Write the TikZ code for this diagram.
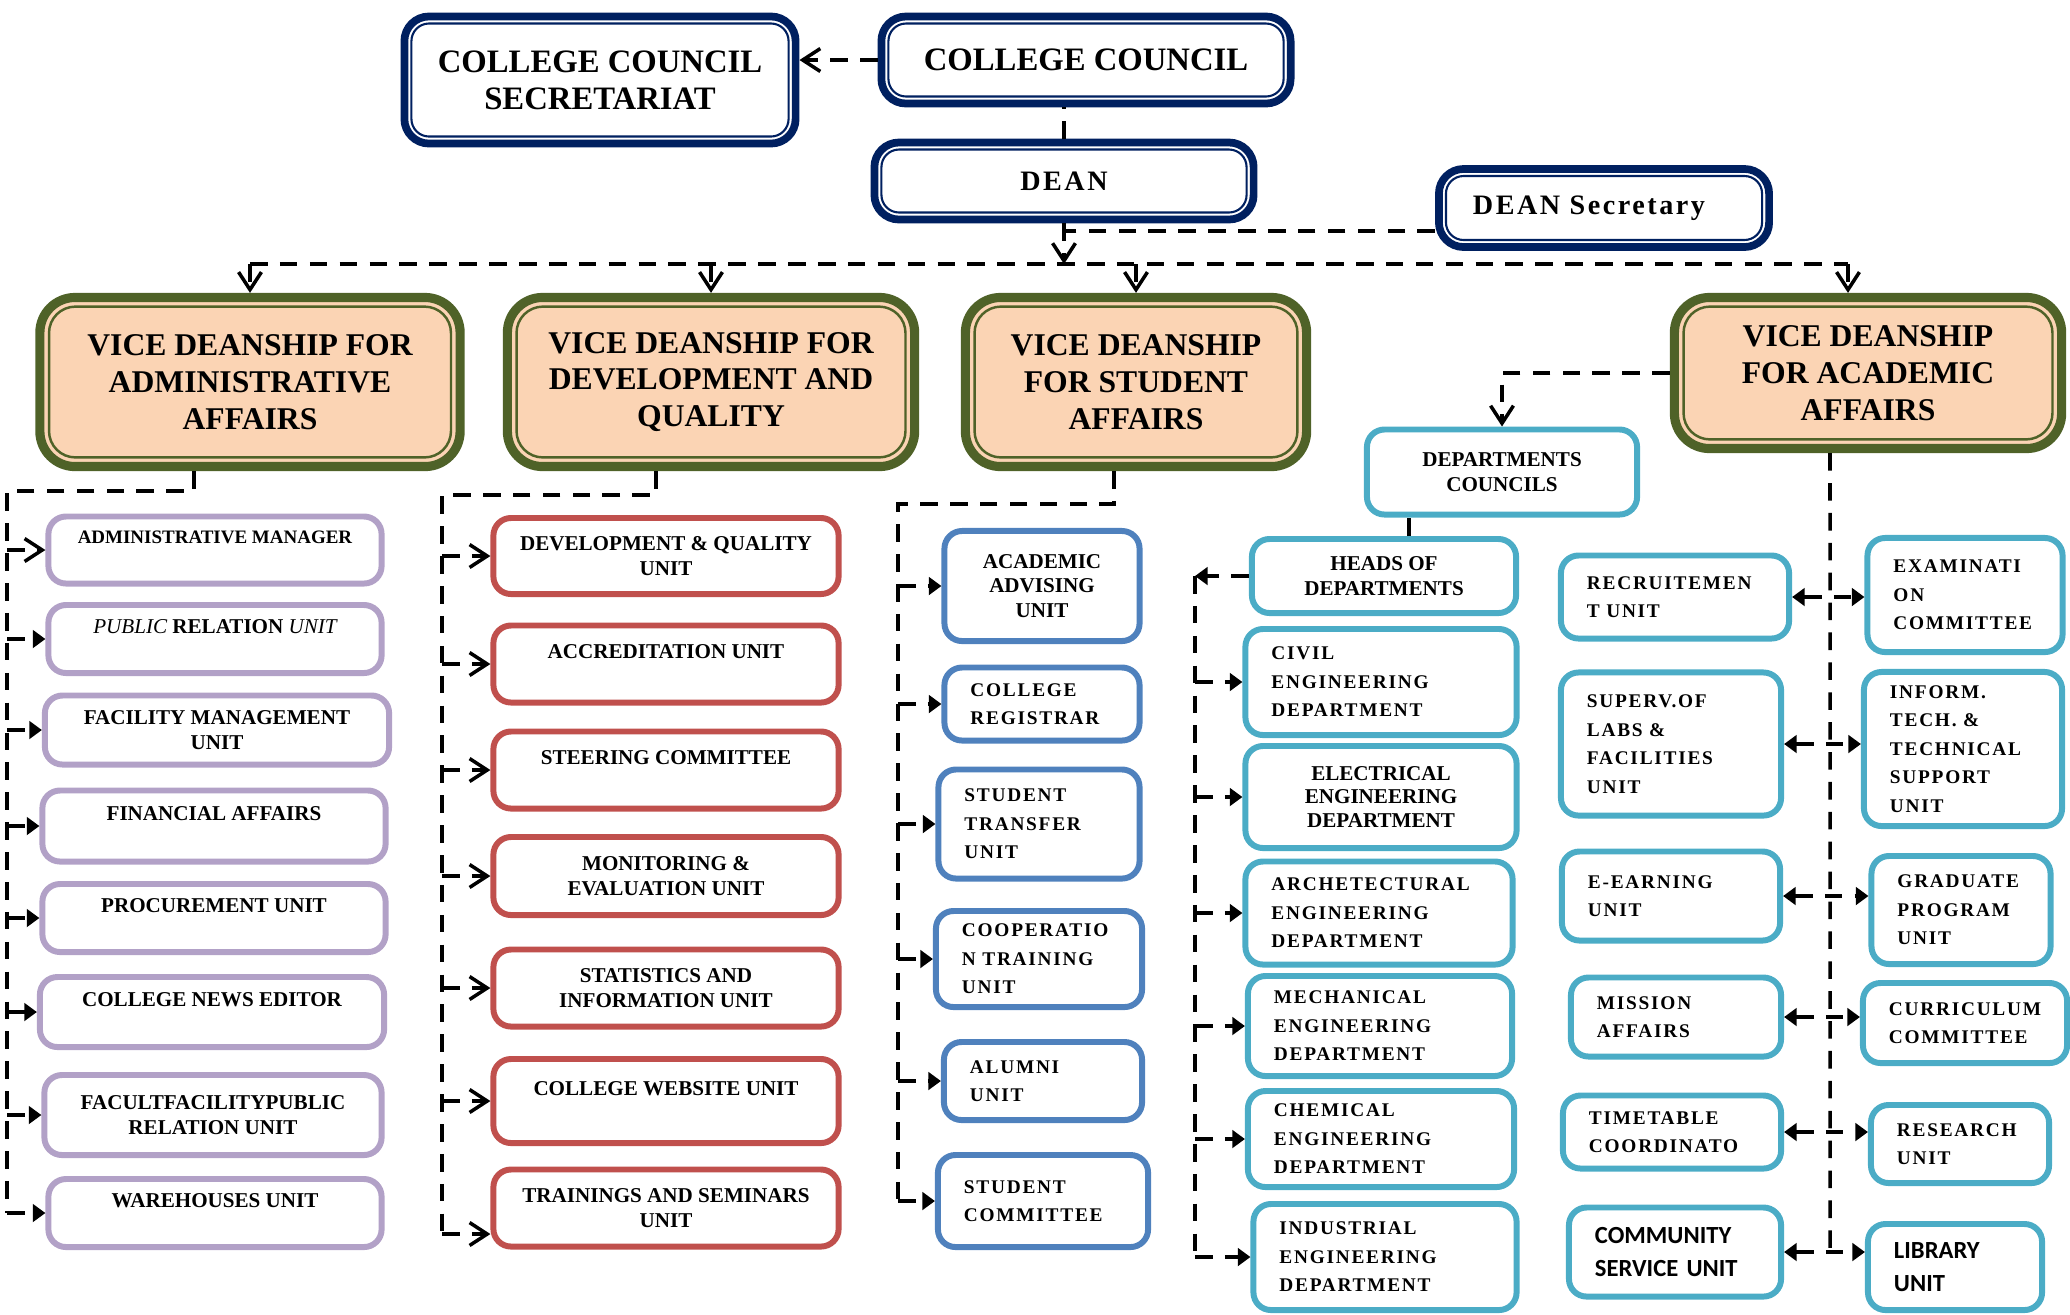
\documentclass[tikz,border=0pt]{standalone}
\usepackage{fontspec}
\setmainfont{Liberation Serif}
\newfontfamily\spaced[LetterSpace=9]{Liberation Serif}
\newfontfamily\calib{Carlito}
\usetikzlibrary{arrows.meta}
\definecolor{navy}{HTML}{002060}
\definecolor{olive}{HTML}{4F6228}
\definecolor{peach}{HTML}{FBD4B4}
\definecolor{lav}{HTML}{B2A1C7}
\definecolor{brick}{HTML}{C0504D}
\definecolor{steel}{HTML}{4F81BD}
\definecolor{aqua}{HTML}{4BACC6}
\tikzset{>={Straight Barb[length=5pt,width=6.5pt]}}
\tikzset{dl/.style={line width=1pt,dash pattern=on 5pt off 3.5pt}}
\tikzset{tri/.style={-{Triangle[length=3.6pt,width=5pt]}}}
\tikzset{twin/.style={{Triangle[length=3.6pt,width=5pt]}-{Triangle[length=3.6pt,width=5pt]}}}
\tikzset{sz/.style 2 args={minimum width=#1cm,minimum height=#2cm}}
\tikzset{head/.style={draw=navy,line width=2.2pt,fill=white,rounded corners=7pt,align=center,inner sep=1pt,
  path picture={\draw[navy,line width=0.6pt,rounded corners=5pt]
    ([shift={(2pt,2pt)}]path picture bounding box.south west) rectangle
    ([shift={(-2pt,-2pt)}]path picture bounding box.north east);}}}
\tikzset{vd/.style={draw=olive,line width=2.6pt,fill=peach,rounded corners=10pt,align=center,inner sep=1pt,
  font=\fontsize{9}{10.5}\selectfont\bfseries,
  path picture={\draw[olive,line width=0.7pt,rounded corners=7.5pt]
    ([shift={(2.6pt,2.6pt)}]path picture bounding box.south west) rectangle
    ([shift={(-2.6pt,-2.6pt)}]path picture bounding box.north east);}}}
\tikzset{ubox/.style={draw=#1,line width=1.7pt,fill=white,rounded corners=5pt,inner sep=1pt,align=center,
  font=\fontsize{6}{7}\selectfont\bfseries}}
\tikzset{spc/.style={font=\spaced\bfseries\fontsize{5.5}{8.1}\selectfont,align=left,inner xsep=0.26cm,text width=#1cm}}

\begin{document}
\begin{tikzpicture}[x=0.01cm,y=-0.01cm]
  \useasboundingbox (0,0) rectangle (2070,1314);
  \node[head,sz={3.91}{1.27},font=\fontsize{9.3}{10.5}\selectfont\bfseries] (CCS) at (600,80) {COLLEGE COUNCIL\\SECRETARIAT};
  \node[head,sz={4.09}{0.87},font=\fontsize{9.3}{10.5}\selectfont\bfseries] (CC) at (1086,60) {COLLEGE COUNCIL};
  \node[head,sz={3.79}{0.77},font=\spaced\bfseries\fontsize{8}{9}\selectfont] (D) at (1064,181) {DEAN};
  \node[head,sz={3.30}{0.78},font=\spaced\bfseries\fontsize{8}{9}\selectfont,align=left,inner xsep=0.34cm,text width=2.62cm] (DS) at (1604,208) {DEAN Secretary};

  \node[vd,sz={4.20}{1.69}] (V1) at (250,382) {VICE DEANSHIP FOR\\ADMINISTRATIVE\\AFFAIRS};
  \node[vd,sz={4.07}{1.69}] (V2) at (711,382) {VICE DEANSHIP FOR\\DEVELOPMENT AND\\QUALITY};
  \node[vd,sz={3.41}{1.69}] (V3) at (1136,382) {VICE DEANSHIP\\FOR STUDENT\\AFFAIRS};
  \node[vd,sz={3.87}{1.51}] (V4) at (1868,373) {VICE DEANSHIP\\FOR ACADEMIC\\AFFAIRS};

  \node[ubox=lav,sz={3.33}{0.67},font=\fontsize{5.4}{7}\selectfont\bfseries] (A1) at (215,550) {ADMINISTRATIVE MANAGER\\~};
  \node[ubox=lav,sz={3.33}{0.68}] (A2) at (215,639) {{\mdseries\itshape PUBLIC} RELATION {\mdseries\itshape UNIT}\\~};
  \node[ubox=lav,sz={3.44}{0.69}] (A3) at (217,730) {FACILITY MANAGEMENT\\UNIT};
  \node[ubox=lav,sz={3.43}{0.71}] (A4) at (214,826) {FINANCIAL AFFAIRS\\~};
  \node[ubox=lav,sz={3.43}{0.68}] (A5) at (214,918) {PROCUREMENT UNIT\\~};
  \node[ubox=lav,sz={3.44}{0.70}] (A6) at (212,1012) {COLLEGE NEWS EDITOR\\~};
  \node[ubox=lav,sz={3.37}{0.80}] (A7) at (213,1115) {FACULTFACILITYPUBLIC\\RELATION UNIT};
  \node[ubox=lav,sz={3.33}{0.68}] (A8) at (215,1213) {WAREHOUSES UNIT\\~};

  \node[ubox=brick,sz={3.45}{0.76}] (Q1) at (666,556) {DEVELOPMENT \& QUALITY\\UNIT};
  \node[ubox=brick,sz={3.45}{0.77}] (Q2) at (666,664) {ACCREDITATION UNIT\\~};
  \node[ubox=brick,sz={3.45}{0.77}] (Q3) at (666,770) {STEERING COMMITTEE\\~};
  \node[ubox=brick,sz={3.45}{0.78}] (Q4) at (666,876) {MONITORING \&\\EVALUATION UNIT};
  \node[ubox=brick,sz={3.45}{0.77}] (Q5) at (666,988) {STATISTICS AND\\INFORMATION UNIT};
  \node[ubox=brick,sz={3.45}{0.84}] (Q6) at (666,1101) {COLLEGE WEBSITE UNIT\\~};
  \node[ubox=brick,sz={3.45}{0.77}] (Q7) at (666,1208) {TRAININGS AND SEMINARS\\UNIT};

  \node[ubox=steel,sz={1.95}{1.10}] (S1) at (1042,586) {ACADEMIC\\ADVISING\\UNIT};
  \node[ubox=steel,spc=1.43,sz={1.95}{0.73}] (S2) at (1042,704) {COLLEGE\\REGISTRAR};
  \node[ubox=steel,spc=1.49,sz={2.01}{1.09}] (S3) at (1039,824) {STUDENT\\TRANSFER\\UNIT};
  \node[ubox=steel,spc=1.54,sz={2.06}{0.96}] (S4) at (1039,959) {COOPERATIO\\N TRAINING\\UNIT};
  \node[ubox=steel,spc=1.46,sz={1.98}{0.78}] (S5) at (1043,1081) {ALUMNI\\UNIT};
  \node[ubox=steel,spc=1.58,sz={2.10}{0.92}] (S6) at (1043,1201) {STUDENT\\COMMITTEE};

  \node[ubox=aqua,sz={2.70}{0.85}] (DC) at (1502,472) {DEPARTMENTS\\COUNCILS};
  \node[ubox=aqua,sz={2.64}{0.74}] (H) at (1384,576) {HEADS OF\\DEPARTMENTS};
  \node[ubox=aqua,spc=2.19,sz={2.71}{1.06}] (E1) at (1381,682) {CIVIL\\ENGINEERING\\DEPARTMENT};
  \node[ubox=aqua,sz={2.71}{1.02},font=\fontsize{6}{6.8}\selectfont\bfseries] (E2) at (1381,797) {ELECTRICAL\\ENGINEERING\\DEPARTMENT};
  \node[ubox=aqua,spc=2.15,sz={2.67}{1.03}] (E3) at (1379,913) {ARCHETECTURAL\\ENGINEERING\\DEPARTMENT};
  \node[ubox=aqua,spc=2.12,sz={2.64}{1.00}] (E4) at (1380,1026) {MECHANICAL\\ENGINEERING\\DEPARTMENT};
  \node[ubox=aqua,spc=2.14,sz={2.66}{0.96}] (E5) at (1381,1139) {CHEMICAL\\ENGINEERING\\DEPARTMENT};
  \node[ubox=aqua,spc=2.11,sz={2.63}{1.06}] (E6) at (1385,1257) {INDUSTRIAL\\ENGINEERING\\DEPARTMENT};

  \node[ubox=aqua,spc=1.76,sz={2.28}{0.83}] (M1) at (1675,597) {RECRUITEMEN\\T UNIT};
  \node[ubox=aqua,spc=1.68,sz={2.20}{1.43}] (M2) at (1671,744) {SUPERV.OF\\LABS \&\\FACILITIES\\UNIT};
  \node[ubox=aqua,spc=1.66,sz={2.18}{0.89}] (M3) at (1671,896) {E-EARNING\\UNIT};
  \node[ubox=aqua,spc=1.58,sz={2.10}{0.79}] (M4) at (1676,1017) {MISSION\\AFFAIRS};
  \node[ubox=aqua,spc=1.66,sz={2.18}{0.73}] (M5) at (1672,1132) {TIMETABLE\\COORDINATO};
  \node[ubox=aqua,spc=1.60,sz={2.12}{0.89},font=\calib\bfseries\fontsize{7}{9.4}\selectfont] (M6) at (1675,1252) {COMMUNITY\\SERVICE UNIT};

  \node[ubox=aqua,spc=1.43,sz={1.95}{1.14}] (R1) at (1965,595) {EXAMINATI\\ON\\COMMITTEE};
  \node[ubox=aqua,spc=1.46,sz={1.98}{1.54}] (R2) at (1963,749) {INFORM.\\TECH. \&\\TECHNICAL\\SUPPORT\\UNIT};
  \node[ubox=aqua,spc=1.27,sz={1.79}{1.08}] (R3) at (1961,910) {GRADUATE\\PROGRAM\\UNIT};
  \node[ubox=aqua,spc=1.52,sz={2.04}{0.80}] (R4) at (1965,1023) {CURRICULUM\\COMMITTEE};
  \node[ubox=aqua,spc=1.26,sz={1.78}{0.78}] (R5) at (1960,1144) {RESEARCH\\UNIT};
  \node[ubox=aqua,spc=1.22,sz={1.74}{0.86},font=\calib\bfseries\fontsize{7}{9.4}\selectfont] (R6) at (1955,1267) {LIBRARY\\UNIT};

  \draw[dl,->] (CC.west) -- (CC.west -| CCS.east);
  \draw[dl] (D.north) -- (D.north |- CC.south);
  \coordinate (bus) at (1064,264);
  \draw[dl,->] (D.south) -- (bus);
  \draw[dl] ([yshift=-0.23cm]DS.west) -- ([yshift=-0.23cm]DS.west -| D.south);
  \draw[dl] (V1.north |- bus) -- ([xshift=-0.2cm]V4.north |- bus);
  \foreach \v in {V1,V2,V3} \draw[dl,->] (\v.north |- bus) -- (\v.north);
  \draw[dl,->] ([xshift=-0.2cm]V4.north |- bus) -- ([xshift=-0.2cm]V4.north);

  \coordinate (a0) at (7,491);
  \coordinate (a1) at (7,1213);
  \draw[dl] ([xshift=-0.56cm]V1.south) |- (a0) -- (a1);
  \draw[dl,->] (a0 |- A1.west) -- (A1.west);
  \foreach \i in {2,...,8} \draw[dl,tri] (a0 |- A\i.west) -- (A\i.west);

  \coordinate (q0) at (442,495);
  \coordinate (q1) at (442,1234);
  \draw[dl] ([xshift=-0.55cm]V2.south) |- (q0) -- (q1);
  \foreach \i in {1,...,6} \draw[dl,->] (q0 |- Q\i.west) -- (Q\i.west);
  \draw[dl,->] (q1) -- (q1 -| Q7.west);

  \coordinate (s0) at (898,504);
  \coordinate (s1) at (898,1201);
  \draw[dl] ([xshift=-0.22cm]V3.south) |- (s0) -- (s1);
  \foreach \i in {1,...,6} \draw[dl,tri] (s0 |- S\i.west) -- (S\i.west);

  \draw[dl,->] (V4.west) -| (DC.north);
  \draw[line width=1pt] ([xshift=0.25cm]H.north) -- ([xshift=0.25cm]H.north |- DC.south);
  \coordinate (e0) at (1195,576);
  \coordinate (e1) at (1195,1257);
  \draw[dl,tri] (H.west) -- (e0);
  \draw[dl] (e0) -- (e1);
  \foreach \i in {1,...,6} \draw[dl,tri] (e0 |- E\i.west) -- (E\i.west);

  \coordinate (r1) at (1830,1257);
  \draw[dl] ([xshift=-0.38cm]V4.south) -- (r1);
  \foreach \i in {1,...,6} \draw[dl,twin] (M\i.east) -- (M\i.east -| R\i.west);
\end{tikzpicture}
\end{document}
